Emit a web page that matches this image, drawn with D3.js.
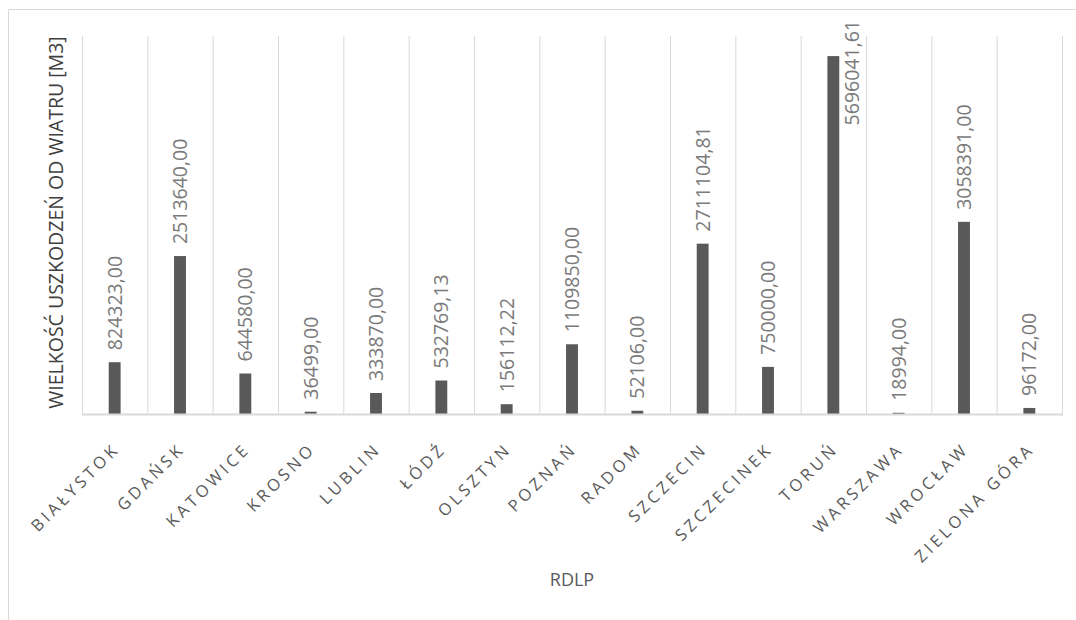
<!DOCTYPE html>
<html>
<head>
<meta charset="utf-8">
<script src="https://cdn.jsdelivr.net/npm/d3@7"></script>
<style>
  html, body { margin: 0; padding: 0; background: #fff; }
  svg { display: block; font-family: "Open Sans", sans-serif; }
</style>
</head>
<body>
<svg id="chart" width="1076" height="620"></svg>
<script>
// Regional directorates (RDLP) and wind-damage volume in m3
const categories = ["BIAŁYSTOK", "GDAŃSK", "KATOWICE", "KROSNO", "LUBLIN", "ŁÓDŹ", "OLSZTYN",
  "POZNAŃ", "RADOM", "SZCZECIN", "SZCZECINEK", "TORUŃ", "WARSZAWA", "WROCŁAW", "ZIELONA GÓRA"];
const values = [824323.00, 2513640.00, 644580.00, 36499.00, 333870.00, 532769.13, 156112.22,
  1109850.00, 52106.00, 2711104.81, 750000.00, 5696041.61, 18994.00, 3058391.00, 96172.00];
const yDomain = [0, 6000000];
const yTitle = "WIELKOŚĆ USZKODZEŃ OD WIATRU [M3]";
const xTitle = "RDLP";

const svg = d3.select("#chart");
const W = 1076, H = 620;
const plot = { left: 82, right: 1062, top: 37, bottom: 414 };

// chart-area frame (left and top edges visible)
svg.append("path")
  .attr("d", `M8.5,${H + 1} V9.5 H${W + 1}`)
  .attr("fill", "none").attr("stroke", "#d9d9d9").attr("stroke-width", 1);

const x = d3.scaleBand().domain(categories).range([plot.left, plot.right]).paddingInner(0).paddingOuter(0);
const y = d3.scaleLinear().domain(yDomain).range([plot.bottom, plot.top]);
const barW = x.bandwidth() / 5.5; // gap width 450%

// vertical category separators
const bounds = categories.map(c => x(c)).concat([plot.right]);
svg.append("g").selectAll("line").data(bounds).join("line")
  .attr("x1", d => d + 0.5).attr("x2", d => d + 0.5)
  .attr("y1", plot.top - 1).attr("y2", plot.bottom)
  .attr("stroke", "#d9d9d9").attr("stroke-width", 1);

// bars
svg.append("g").selectAll("rect").data(values).join("rect")
  .attr("x", (d, i) => x(categories[i]) + x.bandwidth() / 2 - barW / 2)
  .attr("y", d => y(d))
  .attr("width", barW)
  .attr("height", d => y(0) - y(d))
  .attr("fill", "#595959");

// category axis line
svg.append("line")
  .attr("x1", plot.left).attr("x2", plot.right + 1)
  .attr("y1", plot.bottom + 0.5).attr("y2", plot.bottom + 0.5)
  .attr("stroke", "#d9d9d9").attr("stroke-width", 2);

// value labels, rotated; moved beside the bar if they would leave the chart area
const fmt = v => d3.format(".2f")(v).replace(".", ",");
const fs = 19.5;
const labelGap = 12;
const minTop = 20;
const lg = svg.append("g");
values.forEach((v, i) => {
  const cx = x(categories[i]) + x.bandwidth() / 2;
  const t = lg.append("text")
    .attr("font-size", fs)
    .attr("fill", "#7a7a7a")
    .attr("text-anchor", "start")
    .text(fmt(v));
  const len = t.node().getComputedTextLength();
  let bottom = y(v) - labelGap;
  let ax = cx + 0.357 * fs;
  if (bottom - len < minTop) {
    bottom = minTop + len;
    ax = cx + barW / 2 + 6 + 0.714 * fs;
  }
  t.attr("transform", `translate(${ax},${bottom}) rotate(-90)`);
});

// category tick labels, rotated -45
svg.append("g").selectAll("text").data(categories).join("text")
  .attr("transform", d => `translate(${x(d) + x.bandwidth() / 2 + 6},${450}) rotate(-45)`)
  .attr("text-anchor", "end")
  .attr("font-size", 16.5)
  .attr("letter-spacing", "3.6px")
  .attr("fill", "#595959")
  .text(d => d);

// axis titles
svg.append("text")
  .attr("transform", `translate(63,${(plot.top + plot.bottom) / 2 - 3}) rotate(-90)`)
  .attr("text-anchor", "middle")
  .attr("font-size", 19.5)
  .attr("fill", "#404040")
  .text(yTitle);

svg.append("text")
  .attr("x", (plot.left + plot.right) / 2)
  .attr("y", 586)
  .attr("text-anchor", "middle")
  .attr("font-size", 18)
  .attr("fill", "#595959")
  .text(xTitle);
</script>
</body>
</html>
